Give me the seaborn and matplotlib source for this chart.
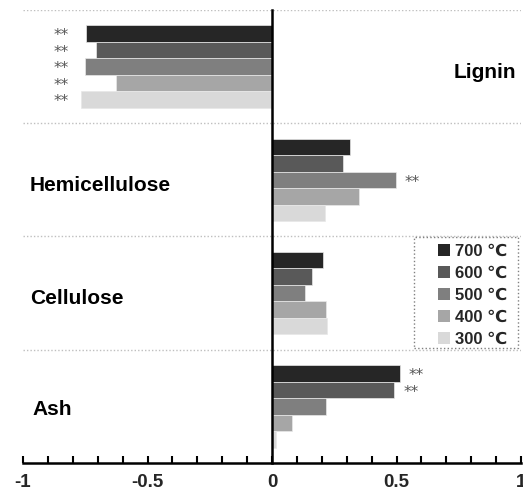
import matplotlib
matplotlib.use("Agg")
import matplotlib.pyplot as plt
from matplotlib.ticker import MultipleLocator
from matplotlib.patches import Rectangle
import seaborn as sns
import pandas as pd

# Components (top to bottom) and pyrolysis temperatures
components = ["Lignin", "Hemicellulose", "Cellulose", "Ash"]
temps = ["700 ℃", "600 ℃", "500 ℃", "400 ℃", "300 ℃"]
colors = ["#262626", "#595959", "#7f7f7f", "#a6a6a6", "#d9d9d9"]

# Correlation values per temperature, in component order
vals_700 = [-0.747, 0.313, 0.205, 0.514]
vals_600 = [-0.705, 0.285, 0.161, 0.491]
vals_500 = [-0.753, 0.498, 0.133, 0.217]
vals_400 = [-0.627, 0.349, 0.217, 0.082]
vals_300 = [-0.766, 0.213, 0.221, 0.016]

# Significance flags ("**"), same layout as the values
sig_700 = [True, False, False, True]
sig_600 = [True, False, False, True]
sig_500 = [True, True, False, False]
sig_400 = [True, False, False, False]
sig_300 = [True, False, False, False]

series = [vals_700, vals_600, vals_500, vals_400, vals_300]
sigs = [sig_700, sig_600, sig_500, sig_400, sig_300]

rows = []
for t, vs in zip(temps, series):
    for c, v in zip(components, vs):
        rows.append({"component": c, "temp": t, "value": v})
df = pd.DataFrame(rows)

sns.set_theme(style="white")
plt.rcParams["font.family"] = ["Liberation Sans", "DejaVu Sans"]
plt.rcParams["font.weight"] = "bold"

fig = plt.figure(figsize=(5.23, 4.98), dpi=100)
ax = fig.add_axes([23 / 523, 35 / 498, 498 / 523, 453 / 498])

sns.barplot(data=df, x="value", y="component", hue="temp",
            order=components, hue_order=temps, palette=colors,
            orient="h", width=0.73, edgecolor="#e8e8e8", linewidth=0.5,
            errorbar=None, ax=ax)

ax.set_xlim(-1, 1)
ax.set_ylim(3.5, -0.5)
ax.set_xlabel("")
ax.set_ylabel("")
ax.set_yticks([])

# Dotted separators between component groups
for yb in [-0.5, 0.5, 1.5, 2.5]:
    ax.axhline(yb, color="#bfbfbf", linestyle=(0, (1, 1.5)), linewidth=1, zorder=0)

# Axis styling: y spine through zero, bottom axis with inward ticks
for s in ["top", "right"]:
    ax.spines[s].set_visible(False)
ax.spines["left"].set_position(("data", 0))
ax.spines["left"].set_linewidth(1.8)
ax.spines["left"].set_color("black")
ax.spines["left"].set_zorder(5)
ax.spines["bottom"].set_linewidth(1.8)
ax.spines["bottom"].set_color("black")
ax.xaxis.set_major_locator(MultipleLocator(0.5))
ax.xaxis.set_minor_locator(MultipleLocator(0.1))
ax.tick_params(axis="x", which="both", direction="in", length=5, width=1.5,
               color="black", bottom=True, labelsize=13.5, pad=8)
ax.set_xticks([-1, -0.5, 0, 0.5, 1])
ax.set_xticklabels(["-1", "-0.5", "0", "0.5", "1"], fontweight="bold")

# Component labels
label_font = dict(fontsize=15, fontweight="bold", va="center", color="black")
ax.text(0.98, 0.05, "Lignin", ha="right", **label_font)
ax.text(-0.975, 1.05, "Hemicellulose", ha="left", **label_font)
ax.text(-0.97, 2.05, "Cellulose", ha="left", **label_font)
ax.text(-0.96, 3.03, "Ash", ha="left", **label_font)

# Significance marks
min_neg = min(min(s) for s in series)
star_font = dict(fontsize=11, fontweight="normal", color="#555555",
                 family="DejaVu Sans", va="center")
for container, flags, vs in zip(ax.containers, sigs, series):
    for patch, flag, v in zip(container.patches, flags, vs):
        if not flag:
            continue
        yc = patch.get_y() + patch.get_height() / 2
        if v < 0:
            ax.text(min_neg - 0.05, yc + 0.02, "**", ha="right", **star_font)
        else:
            ax.text(v + 0.036, yc + 0.02, "**", ha="left", **star_font)

# Legend with a dotted box around it
handles, labels = ax.get_legend_handles_labels()
leg = ax.legend(handles, labels, loc="upper left", bbox_to_anchor=(0.833, 0.483),
                frameon=False, handlelength=0.75, handleheight=0.75,
                handletextpad=0.3, labelspacing=0.42, borderpad=0,
                borderaxespad=0, prop={"size": 12, "weight": "bold"})
for h in leg.legend_handles:
    h.set_edgecolor("none")
ax.add_patch(Rectangle((0.785, 0.254), 0.209, 0.245, transform=ax.transAxes,
                       fill=False, edgecolor="#808080", linestyle=":",
                       linewidth=1, zorder=6))

fig.savefig("out.png", dpi=100)
